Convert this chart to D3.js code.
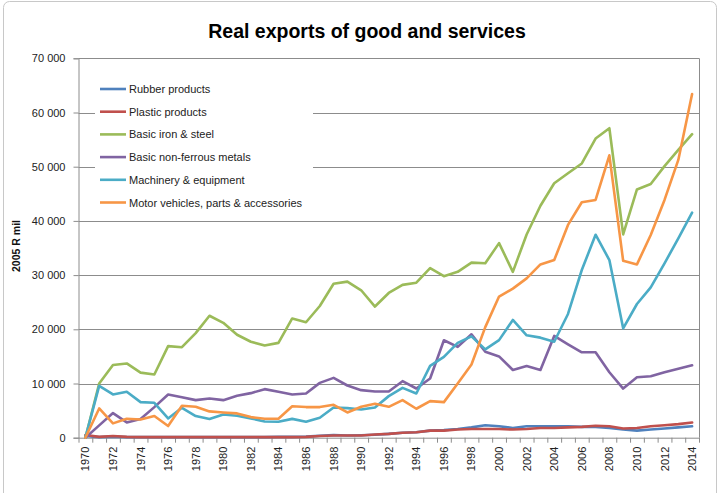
<!DOCTYPE html>
<html>
<head>
<meta charset="utf-8">
<script src="https://cdn.jsdelivr.net/npm/d3@7/dist/d3.min.js"></script>
<style>
  html, body { margin: 0; padding: 0; background: #fff; }
  svg { display: block; font-family: "Liberation Sans", Arial, sans-serif; }
</style>
</head>
<body>
<svg id="chart" width="720" height="493"></svg>
<script>
// Years on the category axis
const years = d3.range(1970, 2015);

// Real exports, 2005 R million
const rubber = [300, 100, 200, 100, 100, 100, 100, 100, 100, 100,
  100, 100, 100, 100, 150, 150, 200, 350, 500, 400,
  450, 550, 700, 900, 1000, 1300, 1400, 1600, 1900, 2300,
  2100, 1800, 2100, 2100, 2100, 2100, 2000, 2000, 1800, 1500,
  1300, 1500, 1700, 1900, 2100];
const plastic = [500, 150, 300, 150, 100, 100, 100, 100, 100, 100,
  100, 100, 100, 100, 100, 100, 150, 300, 400, 400,
  400, 600, 700, 900, 1000, 1300, 1300, 1500, 1600, 1600,
  1600, 1500, 1600, 1800, 1800, 1900, 2000, 2200, 2100, 1700,
  1800, 2100, 2300, 2500, 2800];
const ironSteel = [0, 10000, 13400, 13700, 12000, 11650, 16900, 16700, 19300, 22500,
  21200, 19000, 17700, 17000, 17500, 22000, 21300, 24300, 28400, 28800,
  27200, 24200, 26700, 28200, 28600, 31300, 29800, 30600, 32300, 32200,
  35900, 30600, 37500, 42800, 46950, 48800, 50600, 55200, 57100, 37500,
  45800, 46800, 50100, 53100, 56000];
const nonFerrous = [0, 2270, 4540, 2820, 3440, 5640, 7980, 7480, 6930, 7240,
  6930, 7730, 8220, 8960, 8470, 7980, 8160, 10120, 11040, 9630,
  8770, 8530, 8530, 10430, 9080, 10920, 17980, 16750, 19080, 15850,
  15000, 12500, 13240, 12500, 18770, 17230, 15760, 15760, 12070, 9060,
  11140, 11330, 12070, 12740, 13360];
const machinery = [0, 9570, 7980, 8470, 6560, 6440, 3560, 5520, 3990, 3440,
  4290, 4050, 3560, 3000, 2940, 3470, 2940, 3680, 5580, 5460,
  5210, 5580, 7670, 9200, 8160, 13250, 14900, 17500, 18700, 16300,
  18000, 21720, 18900, 18460, 17700, 22830, 30940, 37450, 32780, 20180,
  24670, 27740, 32170, 36780, 41540];
const motor = [0, 5400, 2640, 3500, 3370, 4000, 2150, 5900, 5700, 4850,
  4660, 4480, 3800, 3500, 3500, 5800, 5650, 5650, 6070, 4660,
  5700, 6260, 5700, 6930, 5340, 6750, 6560, 10000, 13500, 20400,
  26050, 27500, 29400, 31970, 32770, 39260, 43440, 43870, 52100, 32640,
  31970, 37400, 43870, 51250, 63400];

const seriesNames = ["Rubber products", "Plastic products", "Basic iron & steel",
  "Basic non-ferrous metals", "Machinery & equipment", "Motor vehicles, parts & accessories"];
const seriesValues = [rubber, plastic, ironSteel, nonFerrous, machinery, motor];
const seriesColors = ["#4F81BD", "#C0504D", "#9BBB59", "#8064A2", "#4BACC6", "#F79646"];

const yTicks = d3.range(0, 70001, 10000);
const xLabelYears = years.filter(y => y % 2 === 0);

const svg = d3.select("#chart");

// Outer chart frame
svg.append("rect")
  .attr("x", 3.5).attr("y", 1.5).attr("width", 713).attr("height", 500)
  .attr("rx", 6)
  .attr("fill", "none").attr("stroke", "#c8c8c8").attr("stroke-width", 1);

const plot = { left: 78.5, right: 699, top: 58.3, bottom: 437.7 };

const x = d3.scaleLinear().domain([1969.5, 2014.5]).range([plot.left, plot.right]);
const y = d3.scaleLinear().domain([0, 70000]).range([plot.bottom, plot.top]);

const fmt = d3.formatLocale({ decimal: ".", thousands: " ", grouping: [3], currency: ["", ""] }).format(",d");

// Horizontal gridlines
svg.append("g")
  .selectAll("line")
  .data(yTicks.filter(t => t > 0))
  .join("line")
  .attr("x1", plot.left).attr("x2", plot.right)
  .attr("y1", d => Math.round(y(d)) + 0.5).attr("y2", d => Math.round(y(d)) + 0.5)
  .attr("stroke", "#8c8c8c").attr("stroke-width", 1);

// Right border of plot area
svg.append("line")
  .attr("x1", plot.right + 0.5).attr("x2", plot.right + 0.5)
  .attr("y1", plot.top).attr("y2", plot.bottom)
  .attr("stroke", "#8c8c8c");

// Y axis
const yAxis = svg.append("g")
  .attr("transform", `translate(${plot.left},0)`)
  .call(d3.axisLeft(y).tickValues(yTicks).tickFormat(fmt).tickSize(5).tickPadding(8));
yAxis.select(".domain").attr("stroke", "#8c8c8c");
yAxis.selectAll(".tick line").attr("stroke", "#8c8c8c");
yAxis.selectAll(".tick text")
  .attr("font-family", "Liberation Sans, Arial, sans-serif")
  .attr("font-size", 11).attr("fill", "#222");

// X axis: tick marks between categories, labels on even years
const boundaries = d3.range(1969.5, 2015, 1);
const xAxis = svg.append("g")
  .attr("transform", `translate(0,${plot.bottom})`)
  .call(d3.axisBottom(x).tickValues(boundaries).tickFormat("").tickSize(5).tickSizeOuter(0));
xAxis.select(".domain").attr("stroke", "#8c8c8c");
xAxis.selectAll(".tick line").attr("stroke", "#8c8c8c");

svg.append("g")
  .selectAll("text")
  .data(xLabelYears)
  .join("text")
  .attr("transform", d => `translate(${x(d) + 4},${plot.bottom + 9}) rotate(-90)`)
  .attr("text-anchor", "end")
  .attr("font-size", 11)
  .attr("fill", "#222")
  .text(d => d);

// Y axis title
svg.append("text")
  .attr("transform", "translate(20,246) rotate(-90)")
  .attr("text-anchor", "middle")
  .attr("font-size", 10.5)
  .attr("font-weight", "bold")
  .attr("fill", "#111")
  .text("2005 R mil");

// Chart title
svg.append("text")
  .attr("x", 367).attr("y", 38)
  .attr("text-anchor", "middle")
  .attr("font-size", 19.5)
  .attr("font-weight", "bold")
  .attr("fill", "#000")
  .text("Real exports of good and services");

// Series lines
const line = d3.line()
  .x((d, i) => x(years[i]))
  .y(d => y(d));

svg.append("g")
  .selectAll("path")
  .data(seriesValues)
  .join("path")
  .attr("d", d => line(d))
  .attr("fill", "none")
  .attr("stroke", (d, i) => seriesColors[i])
  .attr("stroke-width", 2.6)
  .attr("stroke-linejoin", "round")
  .attr("stroke-linecap", "round");

// Legend (white box over the gridlines)
svg.append("rect")
  .attr("x", 95).attr("y", 74).attr("width", 218).attr("height", 140)
  .attr("fill", "#fff");
const legend = svg.append("g").attr("transform", "translate(100,89)");
const rows = legend.selectAll("g")
  .data(seriesNames)
  .join("g")
  .attr("transform", (d, i) => `translate(0,${i * 22.7})`);
rows.append("line")
  .attr("x1", 0).attr("x2", 26).attr("y1", 0).attr("y2", 0)
  .attr("stroke", (d, i) => seriesColors[i])
  .attr("stroke-width", 2.6);
rows.append("text")
  .attr("x", 29).attr("y", 4)
  .attr("font-size", 11)
  .attr("fill", "#222")
  .text(d => d);
</script>
</body>
</html>
